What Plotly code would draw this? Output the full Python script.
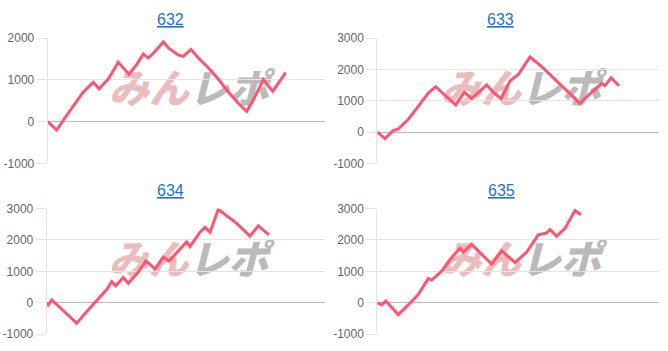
import plotly.graph_objects as go

# ---- data (x = games, y = difference) ----
titles = ["632", "633", "634", "635"]

x632 = [0, 325, 624, 985, 1284, 1465, 1645, 1850, 2185, 2546, 2726, 2932, 3209, 3447, 3627, 3869,
        4170, 4374, 4710, 4890, 5168, 5431, 5792, 6152, 6513, 6874, 7176, 7415, 7775, 8114, 8583]
y632 = [0, -200, 93, 440, 710, 826, 942, 787, 1019, 1421, 1289, 1134, 1366, 1620, 1521, 1676,
        1907, 1752, 1597, 1560, 1729, 1521, 1289, 1019, 711, 440, 248, 518, 1004, 727, 1174]

x633 = [0, 273, 568, 746, 1101, 1516, 1810, 2073, 2403, 2783, 3088, 3351, 3884, 4118, 4391, 4711,
        5005, 5421, 5836, 6546, 7196, 7551, 7966, 8083, 8296, 8580]
y633 = [0, -205, 52, 100, 407, 917, 1244, 1447, 1172, 865, 1275, 1070, 1508, 1275, 1070, 1631,
        1835, 2395, 2089, 1477, 917, 1223, 1550, 1477, 1733, 1477]

x634 = [0, 57, 180, 1078, 1376, 1854, 2156, 2335, 2479, 2752, 2932, 3291, 3568, 3891, 4190, 4394,
        4729, 5030, 5149, 5508, 5688, 5868, 6166, 6586, 6827, 7305, 7603, 7988]
y634 = [0, -70, 90, -650, -345, 113, 418, 671, 540, 805, 622, 976, 1332, 1079, 1454, 1332,
        1637, 1942, 1790, 2247, 2400, 2247, 2978, 2704, 2530, 2125, 2451, 2165]

x635 = [0, 156, 298, 745, 1100, 1455, 1810, 1931, 2286, 2581, 2936, 3053, 3351, 4061, 4416, 4888,
        5304, 5715, 6013, 6131, 6368, 6663, 7018, 7231]
y635 = [0, -70, 60, -375, -70, 265, 774, 723, 1006, 1384, 1738, 1616, 1860, 1232, 1659, 1280,
        1616, 2165, 2226, 2330, 2125, 2370, 2940, 2805]

yticks_top_left = [-1000, 0, 1000, 2000]
yticks_other = [-1000, 0, 1000, 2000, 3000]

series = [(x632, y632), (x633, y633), (x634, y634), (x635, y635)]
y_ranges = [[-1000, 2000], [-1000, 3000], [-1000, 3000], [-1000, 3000]]
tick_sets = [yticks_top_left, yticks_other, yticks_other, yticks_other]

# ---- layout geometry ----
W, H = 668, 351
xdoms = [[47.7 / W, 325 / W], [377.3 / W, 659 / W], [46.7 / W, 325 / W], [377.3 / W, 659 / W]]
ydoms = [[1 - 163 / H, 1 - 32.3 / H], [1 - 163 / H, 1 - 32.3 / H],
         [1 - 340.7 / H, 1 - 210 / H], [1 - 340.7 / H, 1 - 210 / H]]
title_pos = [(170, 13), (500.7, 13), (170, 191.5), (501.5, 191.5)]

LINE = "#ff5470"
GRID = "#e4e4e4"
ZERO = "#b8b8b8"

fig = go.Figure()
layout = dict(
    width=W, height=H, margin=dict(l=0, r=0, t=0, b=0),
    paper_bgcolor="white", plot_bgcolor="white", showlegend=False,
    font=dict(family="Liberation Sans, Arial, sans-serif", color="#666666", size=12),
    annotations=[], shapes=[],
)

for i, ((xs, ys), yr, tv) in enumerate(zip(series, y_ranges, tick_sets)):
    n = "" if i == 0 else str(i + 1)
    fig.add_trace(go.Scatter(x=xs, y=ys, mode="lines", line=dict(color=LINE, width=3),
                             xaxis="x" + n, yaxis="y" + n, hoverinfo="skip"))
    layout["xaxis" + n] = dict(domain=xdoms[i], range=[0, 10000], anchor="y" + n,
                               showgrid=False, zeroline=False, showticklabels=False,
                               showline=False, ticks="")
    layout["yaxis" + n] = dict(domain=ydoms[i], range=yr, anchor="x" + n,
                               tickvals=tv, ticktext=[str(v) for v in tv],
                               showgrid=True, gridcolor=GRID, gridwidth=1,
                               zeroline=True, zerolinecolor=ZERO, zerolinewidth=1,
                               showline=True, linecolor=GRID, linewidth=1,
                               ticks="outside", ticklen=10, tickcolor=GRID,
                               tickfont=dict(size=12, color="#666666"))
    tx, ty = title_pos[i]
    layout["annotations"].append(dict(
        text="<u>" + titles[i] + "</u>", x=tx / W, y=1 - ty / H, xref="paper", yref="paper",
        xanchor="center", yanchor="middle", showarrow=False,
        font=dict(size=16, color="#1a73d9", family="Liberation Sans, Arial, sans-serif")))
    # watermark behind the line
    x0 = xdoms[i][0] + 0.15 * (xdoms[i][1] - xdoms[i][0])
    x1 = xdoms[i][0] + 0.87 * (xdoms[i][1] - xdoms[i][0])
    yc = ydoms[i][0] + 0.566 * (ydoms[i][1] - ydoms[i][0])
    layout["shapes"].append(dict(
        type="rect", xref="paper", yref="paper", x0=x0, x1=x1, y0=yc - 0.04, y1=yc + 0.04,
        line=dict(width=0), fillcolor="rgba(0,0,0,0)", layer="below",
        label=dict(text="<span style='color:#ebbcbe'>みん</span><span style='color:#bababa'>レポ</span>",
                   textposition="middle center",
                   font=dict(size=40, family="Noto Sans CJK JP", weight=900, style="italic"))))

fig.update_layout(**layout)
fig.write_html("out.html")
